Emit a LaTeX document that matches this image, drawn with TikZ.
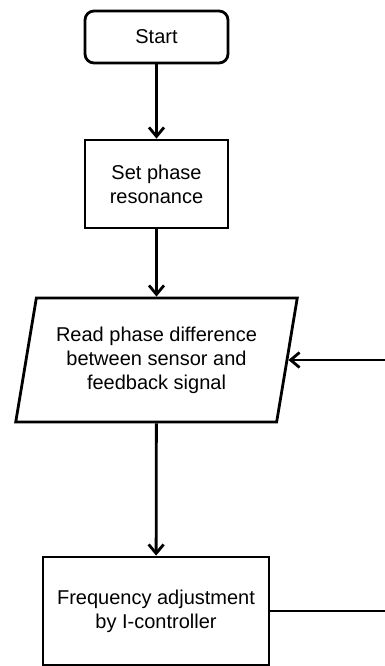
\documentclass[tikz,border=0pt]{standalone}
\usepackage{fontspec}
\setmainfont{Liberation Sans}
\usetikzlibrary{shapes.geometric,arrows.meta}
\tikzset{
    flowbox/.style={draw, line width=2.8pt, align=center, inner sep=0pt,
        font=\fontsize{20}{24}\selectfont},
    startbox/.style={flowbox, rounded corners=9pt, minimum width=143pt, minimum height=52pt},
    procbox/.style={flowbox, minimum width=143pt, minimum height=88pt},
    iobox/.style={flowbox, trapezium, trapezium left angle=75.5, trapezium right angle=104.5,
        trapezium stretches=true, minimum width=282pt, minimum height=124pt},
    flowarrow/.style={line width=2.8pt, -{Straight Barb[length=9pt,width=15pt]}}
}

\begin{document}
\begin{tikzpicture}[x=1pt, y=-1pt]
            \useasboundingbox (0,0) rectangle (385,666);
            \clip (0,0) rectangle (385,666);
            \node[startbox] (start)     at (156.5, 37)  {Start};
            \node[procbox]  (setphase)  at (156.5, 184) {Set phase\\resonance};
            \node[iobox]    (readphase) at (156.5, 360) {Read phase difference\\between sensor and\\feedback signal};
            \node[flowbox, minimum width=226pt, minimum height=108pt]
                            (ictrl)     at (156, 611)   {Frequency adjustment\\by I-controller};
            \coordinate (loop) at (395, 611);
            \draw[flowarrow] (start)     -- (setphase);
            \draw[flowarrow] (setphase)  -- (readphase);
            \draw[flowarrow] (readphase) -- (ictrl);
            % feedback loop, its right side is outside the picture
            \draw[flowarrow] (ictrl.east) -- (loop) |- (readphase.east);
        \end{tikzpicture}
\end{document}
